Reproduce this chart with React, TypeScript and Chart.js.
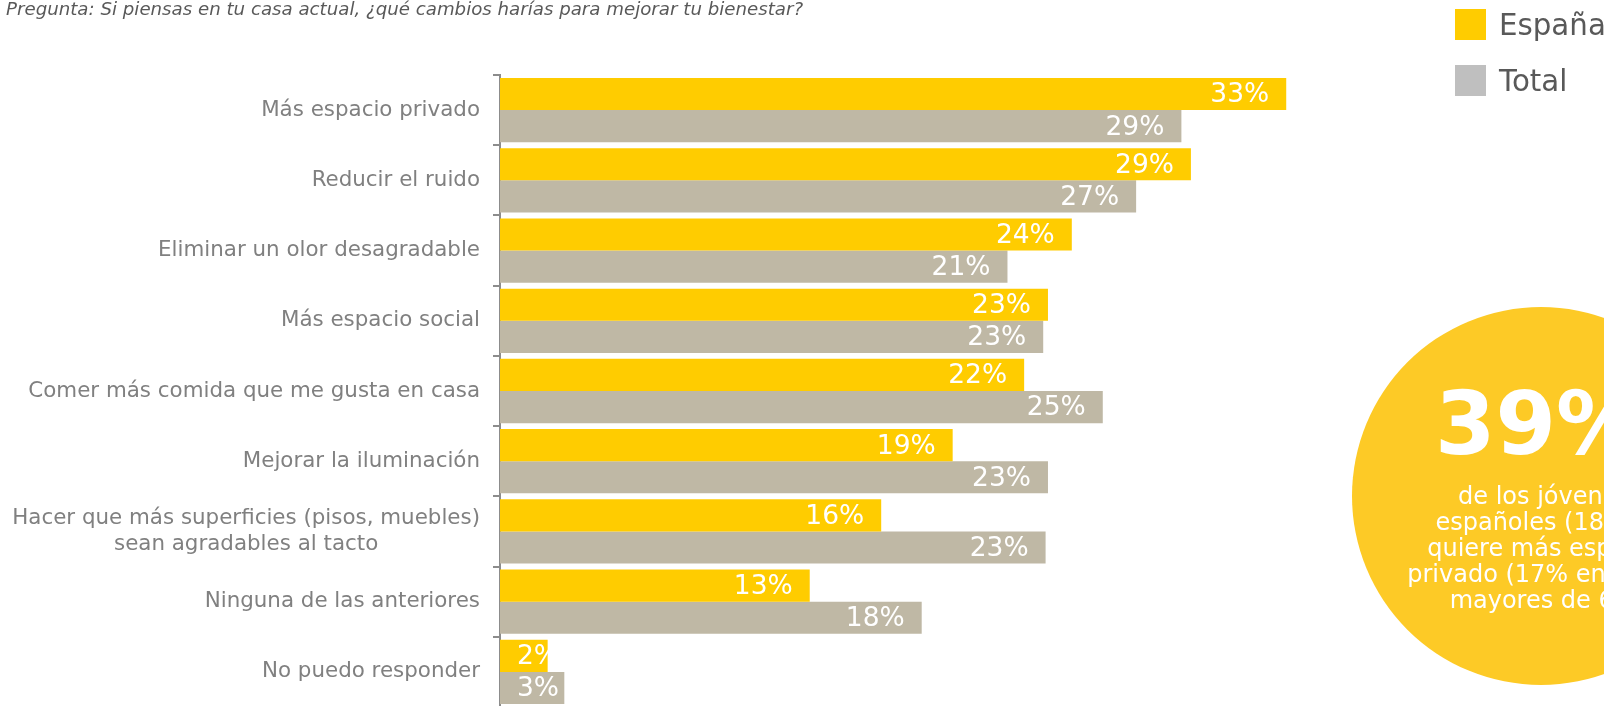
import React, { useEffect, useRef } from "react";
import { Chart, registerables } from "chart.js";

Chart.register(...registerables);

const categories: (string | string[])[] = [
  "Más espacio privado",
  "Reducir el ruido",
  "Eliminar un olor desagradable",
  "Más espacio social",
  "Comer más comida que me gusta en casa",
  "Mejorar la iluminación",
  ["Hacer que más superficies (pisos, muebles)", "sean agradables al tacto"],
  "Ninguna de las anteriores",
  "No puedo responder",
];

const seriesNames = ["España", "Total"];
const espana = [33, 29, 24, 23, 22, 19, 16, 13, 2];
const total = [28.6, 26.7, 21.3, 22.8, 25.3, 23.0, 22.9, 17.7, 2.7];

const subtitle =
  "Pregunta: Si piensas en tu casa actual, ¿qué cambios harías para mejorar tu bienestar?";
const bigStat = "39%";
const statLines = [
  "de los jóvenes",
  "españoles (18-24)",
  "quiere más espacio",
  "privado (17% entre los",
  "mayores de 65)",
];

const YELLOW = "#FFCC00";
const BEIGE = "#BFB8A5";
const FONT = "'DejaVu Sans', Verdana, sans-serif";

const labelPlugin = {
  id: "customLabels",
  afterDatasetsDraw(chart: any) {
    const ctx = chart.ctx;
    const area = chart.chartArea;
    // data labels
    ctx.save();
    ctx.font = `26.5px ${FONT}`;
    ctx.fillStyle = "#FFFFFF";
    ctx.textBaseline = "middle";
    ctx.textAlign = "left";
    chart.data.datasets.forEach((ds: any, di: number) => {
      const meta = chart.getDatasetMeta(di);
      meta.data.forEach((bar: any, i: number) => {
        const txt = Math.round(ds.data[i]) + "%";
        const w = ctx.measureText(txt).width;
        let x = bar.x - 17 - w;
        if (x < area.left + 17) x = area.left + 17;
        ctx.fillText(txt, x, bar.y + 1.5);
      });
    });
    ctx.restore();

    // category labels (multi-line centred within block)
    const y = chart.scales.y;
    ctx.save();
    ctx.font = `21.4px ${FONT}`;
    ctx.fillStyle = "#808080";
    ctx.textBaseline = "middle";
    ctx.textAlign = "center";
    const right = area.left - 20;
    const lineH = 26;
    chart.data.labels.forEach((lab: any, i: number) => {
      const lines: string[] = Array.isArray(lab) ? lab : [lab];
      const maxW = Math.max(...lines.map((l) => ctx.measureText(l).width));
      const cx = right - maxW / 2;
      const cy = y.getPixelForValue(i);
      const start = cy - ((lines.length - 1) * lineH) / 2;
      lines.forEach((l, k) => ctx.fillText(l, cx, start + k * lineH));
    });
    ctx.restore();
  },
};

export default function App() {
  const ref = useRef<HTMLCanvasElement | null>(null);

  useEffect(() => {
    if (!ref.current) return;
    const chart = new Chart(ref.current, {
      type: "bar",
      data: {
        labels: categories as any,
        datasets: [
          {
            label: seriesNames[0],
            data: espana,
            backgroundColor: YELLOW,
            categoryPercentage: 0.915,
            barPercentage: 1,
          },
          {
            label: seriesNames[1],
            data: total,
            backgroundColor: BEIGE,
            categoryPercentage: 0.915,
            barPercentage: 1,
          },
        ],
      },
      options: {
        indexAxis: "y",
        animation: false,
        responsive: false,
        maintainAspectRatio: false,
        devicePixelRatio: 1,
        layout: { padding: { top: 75, bottom: 5, left: 0, right: 151 } },
        plugins: {
          legend: { display: false },
          tooltip: { enabled: false },
          title: { display: false },
        },
        scales: {
          x: { type: "linear", display: false, min: 0, max: 40 },
          y: {
            type: "category",
            ticks: { display: false },
            grid: {
              display: true,
              drawOnChartArea: false,
              drawTicks: true,
              tickLength: 7,
              color: "#8C8C8C",
              lineWidth: 2,
              offset: true,
            },
            border: { display: true, color: "#8C8C8C", width: 2 },
            afterFit: (scale: any) => {
              scale.width = 500;
            },
          },
        },
      },
      plugins: [labelPlugin],
    });
    return () => chart.destroy();
  }, []);

  return (
    <div
      style={{
        position: "fixed",
        left: 0,
        top: 0,
        width: 1604,
        height: 706,
        overflow: "hidden",
        background: "#FFFFFF",
        fontFamily: FONT,
      }}
    >
      <canvas
        ref={ref}
        width={1604}
        height={712}
        style={{ position: "absolute", left: 0, top: 0, width: 1604, height: 712 }}
      />
      <div
        style={{
          position: "absolute",
          left: 6,
          top: -1,
          fontSize: 18.2,
          lineHeight: "20px",
          fontStyle: "italic",
          color: "#595959",
          whiteSpace: "nowrap",
        }}
      >
        {subtitle}
      </div>
      {/* legend */}
      {seriesNames.map((name, i) => (
        <div key={name}>
          <div
            style={{
              position: "absolute",
              left: 1455,
              top: 9 + i * 56,
              width: 31,
              height: 31,
              background: i === 0 ? YELLOW : "#BFBFBF",
            }}
          />
          <div
            style={{
              position: "absolute",
              left: 1499,
              top: 9 + i * 56 - 1,
              fontSize: 29.3,
              lineHeight: "34px",
              color: "#595959",
              whiteSpace: "nowrap",
            }}
          >
            {name}
          </div>
        </div>
      ))}
      {/* circle */}
      <div
        style={{
          position: "absolute",
          left: 1352,
          top: 307,
          width: 378,
          height: 378,
          borderRadius: "50%",
          background: "#FDCA26",
        }}
      />
      <div
        style={{
          position: "absolute",
          left: 1339,
          top: 381,
          width: 400,
          textAlign: "center",
          fontSize: 87,
          lineHeight: "87px",
          fontWeight: "bold",
          color: "#FFFFFF",
          whiteSpace: "nowrap",
        }}
      >
        {bigStat}
      </div>
      <div
        style={{
          position: "absolute",
          left: 1344,
          top: 483,
          width: 400,
          textAlign: "center",
          fontSize: 24,
          lineHeight: "26px",
          color: "#FFFFFF",
          whiteSpace: "nowrap",
        }}
      >
        {statLines.map((l, i) => (
          <div key={i}>{l}</div>
        ))}
      </div>
    </div>
  );
}
